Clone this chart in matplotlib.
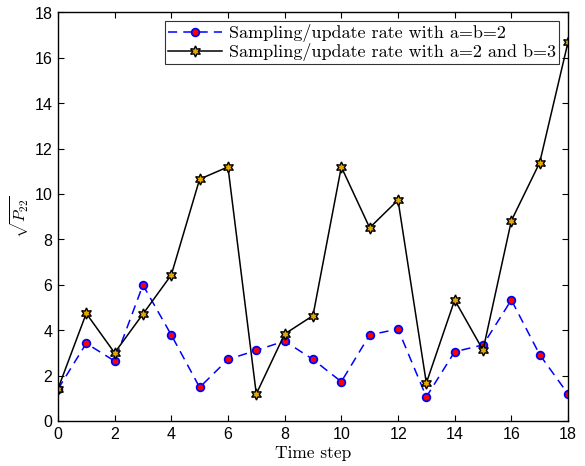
import matplotlib
matplotlib.use("Agg")
import matplotlib.pyplot as plt
import numpy as np

plt.rcParams['mathtext.fontset'] = 'cm'
plt.rcParams['axes.formatter.use_mathtext'] = True

time_step = np.arange(0, 19)
rate_ab2 = [1.4, 3.42, 2.64, 5.99, 3.79, 1.48, 2.71, 3.11, 3.52, 2.71,
            1.73, 3.79, 4.05, 1.06, 3.05, 3.35, 5.33, 2.92, 1.19]
rate_a2_b3 = [1.41, 4.74, 3.0, 4.71, 6.43, 10.65, 11.19, 1.19, 3.83, 4.64,
              11.19, 8.51, 9.73, 1.67, 5.33, 3.12, 8.82, 11.38, 16.69]

label_ab2 = 'Sampling/update rate with a=b=2'
label_a2_b3 = 'Sampling/update rate with a=2 and b=3'

fig = plt.figure(figsize=(5.85, 4.66), dpi=100)
ax = fig.add_axes([0.099, 0.0966, 0.872, 0.877])

ax.plot(time_step, rate_ab2, color='blue', linestyle=(0, (6, 4)), linewidth=1.1,
        marker='o', markersize=5.5, markerfacecolor='red', markeredgecolor='blue',
        markeredgewidth=1.3, label=label_ab2)
ax.plot(time_step, rate_a2_b3, color='black', linewidth=1.1,
        marker=(6, 1, 0), markersize=8, markerfacecolor='#e6a800',
        markeredgecolor='black', markeredgewidth=1.0, label=label_a2_b3)

ax.set_xlim(0, 18)
ax.set_ylim(0, 18)
ax.set_xticks(range(0, 19, 2))
ax.set_yticks(range(0, 19, 2))
ax.tick_params(direction='in', top=True, right=True, length=4, width=0.8,
               labelsize=11.5)
for lbl in ax.get_xticklabels() + ax.get_yticklabels():
    lbl.set_family('Liberation Sans')
for s in ax.spines.values():
    s.set_linewidth(1.0)

ax.set_xlabel('Time step', family='cmr10', fontsize=12.5, labelpad=3)
ax.set_ylabel(r'$\sqrt{P_{22}}$', fontsize=11.5, labelpad=2)

leg = ax.legend(loc='upper right', prop={'family': 'cmr10', 'size': 13},
                frameon=True, fancybox=False, edgecolor='black',
                borderaxespad=0.5, handlelength=3.0, borderpad=0.15,
                labelspacing=0.05, handletextpad=0.4)
leg.get_frame().set_linewidth(0.8)

fig.savefig('out.png', dpi=100)
